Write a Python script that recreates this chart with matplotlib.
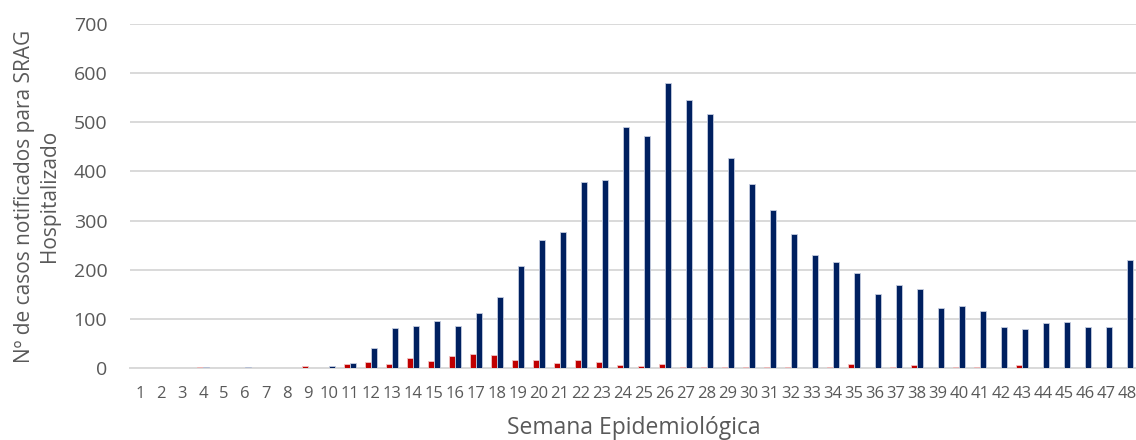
import matplotlib
matplotlib.use("Agg")
import matplotlib.pyplot as plt
import numpy as np

semanas = [str(i) for i in range(1, 49)]
serie_vermelha = [0, 0, 1, 3, 0, 1, 0, 0, 5, 1, 9, 12, 8, 20, 15, 24, 28, 27, 16, 17,
                  11, 16, 13, 7, 5, 8, 2, 2, 3, 3, 2, 2, 0, 2, 8, 0, 3, 6, 0, 2,
                  3, 1, 6, 1, 1, 1, 1, 1]
serie_azul = [0, 1, 0, 2, 1, 3, 1, 0, 0, 5, 10, 40, 82, 85, 95, 86, 112, 145, 208, 260,
              276, 378, 383, 490, 473, 580, 545, 516, 427, 375, 322, 273, 229, 216, 193, 150, 168, 160, 122, 127,
              116, 84, 80, 92, 94, 84, 84, 220]
y_ticks = [0, 100, 200, 300, 400, 500, 600, 700]

plt.rcParams['font.family'] = ['Open Sans', 'DejaVu Sans']

fig = plt.figure(figsize=(11.36, 4.4), dpi=100)
ax = fig.add_axes([129.5 / 1136, 0.1636, 1008 / 1136, 0.7818])

x = np.arange(len(semanas))
w = 0.29
ax.bar(x - w / 2, serie_vermelha, width=w, color='#C00000', edgecolor='#f2c4c4', linewidth=0.6, zorder=3)
ax.bar(x + w / 2, serie_azul, width=w, color='#002060', edgecolor='#c5cde0', linewidth=0.6, zorder=3)

ax.set_xlim(-0.5, len(semanas) - 0.5)
ax.set_ylim(0, 700)
ax.set_yticks(y_ticks)
ax.set_xticks(x)
ax.set_xticklabels(semanas)
ax.tick_params(axis='y', length=0, labelsize=14, colors='#595959', pad=16)
ax.tick_params(axis='x', length=0, labelsize=12, colors='#595959', pad=13)
ax.grid(axis='y', color='#d9d9d9', linewidth=1.4, zorder=0)
for s in ['top', 'right', 'left']:
    ax.spines[s].set_visible(False)
ax.spines['bottom'].set_color('#d9d9d9')
ax.spines['bottom'].set_linewidth(1.4)

ax.set_xlabel('Semana Epidemiológica', fontsize=16.5, color='#595959', labelpad=10)
ax.set_ylabel('Nº de casos notificados para SRAG\nHospitalizado', fontsize=15, color='#595959', labelpad=10,
              linespacing=1.2)

fig.savefig('out.png', dpi=100)
